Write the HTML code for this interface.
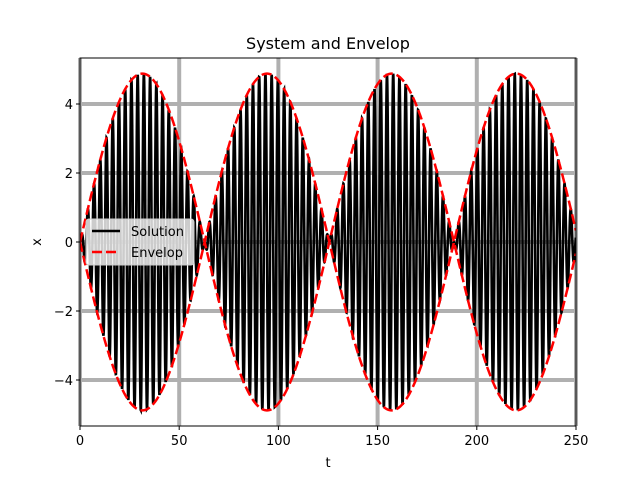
<!DOCTYPE html>
<html><head><meta charset="utf-8"><style>
body{margin:0;background:#fff}
svg text{font-family:"DejaVu Sans","Liberation Sans",sans-serif;font-size:13px;fill:#000}
</style></head><body>
<svg id="chart" width="640" height="480">
<g id="grid"></g>
<g id="series"></g>
<rect x="80" y="58" width="496" height="368" fill="none" stroke="#000" stroke-width="1"/>
<g id="ticks"></g>
<text x="328" y="49" text-anchor="middle" style="font-size:16px">System and Envelop</text>
<text x="328" y="467" text-anchor="middle">t</text>
<text x="41" y="242" text-anchor="middle" transform="rotate(-90 41 242)">x</text>
<g>
<rect x="86" y="219" width="108" height="46" rx="3" fill="#fff" fill-opacity="0.8" stroke="#ccc"/>
<line x1="92" y1="231" x2="120" y2="231" stroke="#000" stroke-width="2.5"/>
<text x="131" y="236">Solution</text>
<line x1="92" y1="252" x2="120" y2="252" stroke="red" stroke-width="2.5" stroke-dasharray="10,4"/>
<text x="131" y="257">Envelop</text>
</g>
</svg>
<script>
const xTicks=[0,50,100,150,200,250];
const yTicks=[-4,-2,0,2,4];
const amplitude=[4.88];
const envelopeFreq=[0.05];
const carrierFreq=[2.0];
const tRange=[0,250];
const NS='http://www.w3.org/2000/svg';
const X=t=>80+(t-0)/250*496;
const Y=v=>242-v*34.5;
function mk(tag,attrs,parent){const e=document.createElementNS(NS,tag);for(const k in attrs)e.setAttribute(k,attrs[k]);parent.appendChild(e);return e;}
const grid=document.getElementById('grid'),ticks=document.getElementById('ticks'),series=document.getElementById('series');
xTicks.forEach(v=>{
 const g=mk('line',{x1:X(v),x2:X(v),y1:58,y2:426,stroke:'#b0b0b0','stroke-width':4},grid);
 
 
 const tk=mk('line',{x1:X(v),x2:X(v),y1:426,y2:430,stroke:'#000'},ticks);
 
 
 const tx=mk('text',{x:X(v),y:445,'text-anchor':'middle'},ticks);tx.textContent=v;
 
 
});
yTicks.forEach(v=>{
 const g=mk('line',{x1:80,x2:576,y1:Y(v),y2:Y(v),stroke:'#b0b0b0','stroke-width':4},grid);
 
 
 const tk=mk('line',{x1:76,x2:80,y1:Y(v),y2:Y(v),stroke:'#000'},ticks);
 
 
 const tx=mk('text',{x:73,y:Y(v)+5,'text-anchor':'end'},ticks);tx.textContent=(v<0?'\u2212'+(-v):v);
 
 
});
let sol='',envU='',envL='';
for(let t=tRange[0];t<=tRange[1];t+=0.05){
 const e=amplitude[0]*Math.sin(envelopeFreq[0]*t);
 const s=e*Math.sin(carrierFreq[0]*t);
 sol+=(sol?'L':'M')+X(t).toFixed(2)+','+Y(s).toFixed(2);
 envU+=(envU?'L':'M')+X(t).toFixed(2)+','+Y(Math.abs(e)).toFixed(2);
 envL+=(envL?'L':'M')+X(t).toFixed(2)+','+Y(-Math.abs(e)).toFixed(2);
}
const cp=mk('clipPath',{id:'clip'},series);mk('rect',{x:80,y:58,width:496,height:368},cp);
const p=mk('path',{d:sol,fill:'none',stroke:'#000','stroke-width':2.6,'clip-path':'url(#clip)'},series);


const u=mk('path',{d:envU,fill:'none',stroke:'red','stroke-width':2.5,'stroke-dasharray':'10,4','clip-path':'url(#clip)'},series);


const l=mk('path',{d:envL,fill:'none',stroke:'red','stroke-width':2.5,'stroke-dasharray':'10,4','clip-path':'url(#clip)'},series);


</script>
</body></html>
